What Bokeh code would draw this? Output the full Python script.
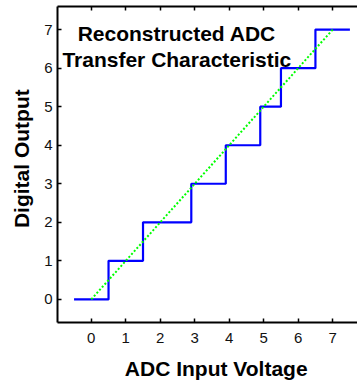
from bokeh.plotting import figure
from bokeh.models import Range1d, FixedTicker, LinearAxis, Label, CustomJSTickFormatter
from bokeh.embed import file_html
from bokeh.resources import INLINE

# Data
codes = [0, 1, 2, 3, 4, 5, 6, 7, 7]
edges = [-0.5, 0.5, 1.5, 2.9, 3.9, 4.9, 5.5, 6.5, 7.5]
ideal_x = [0, 7]
ideal_y = [0, 7]
ticks = [0, 1, 2, 3, 4, 5, 6, 7]
title_lines = ["Reconstructed ADC", "Transfer Characteristic"]

FONT = "Liberation Sans"

p = figure(width=357, height=383, output_backend="svg", toolbar_location=None,
           x_range=Range1d(-0.98, 7.72), y_range=Range1d(-0.6, 7.6),
           min_border_left=57, min_border_right=0, min_border_top=6, min_border_bottom=61)
p.outline_line_color = None
p.xgrid.visible = False
p.ygrid.visible = False
p.background_fill_color = "white"
p.border_fill_color = "white"

p.step(edges, codes, mode="after", line_color="#0000FF", line_width=2.2)
p.line(ideal_x, ideal_y, line_color="#00FF00", line_width=2, line_dash="2 2")

for ax in (p.xaxis[0], p.yaxis[0]):
    ax.ticker = FixedTicker(ticks=ticks)
    ax.axis_line_width = 2
    ax.axis_line_color = "black"
    ax.major_tick_in = 4
    ax.major_tick_out = 0
    ax.major_tick_line_width = 1.5
    ax.minor_tick_line_color = None
    ax.major_label_text_font = FONT
    ax.major_label_text_font_size = "15px"
    ax.major_label_text_color = "#111111"
    ax.axis_label_text_font = FONT
    ax.axis_label_text_font_size = "21px"
    ax.axis_label_text_font_style = "bold"
    ax.axis_label_text_color = "black"

p.xaxis.axis_label = "\u00a0\u00a0\u00a0ADC Input Voltage"
p.yaxis.axis_label = "\u00a0\u00a0Digital Output"
p.xaxis.major_label_standoff = 10
p.yaxis.major_label_standoff = 5
p.xaxis.axis_label_standoff = 11
p.yaxis.axis_label_standoff = 8

top = LinearAxis(ticker=FixedTicker(ticks=ticks), axis_line_width=2, axis_line_color="black",
                 major_tick_in=4, major_tick_out=0, major_tick_line_width=1.5,
                 minor_tick_line_color=None, major_label_text_font_size="1px",
                 major_label_standoff=0,
                 formatter=CustomJSTickFormatter(code="return ''"))
p.add_layout(top, "above")

for txt, yy in zip(title_lines, [6.9, 6.23]):
    p.add_layout(Label(x=2.48, y=yy, text=txt, text_align="center", text_baseline="alphabetic",
                       text_font=FONT, text_font_size="21px", text_font_style="bold",
                       text_color="black"))

open("out.html", "w").write(file_html(p, INLINE))
